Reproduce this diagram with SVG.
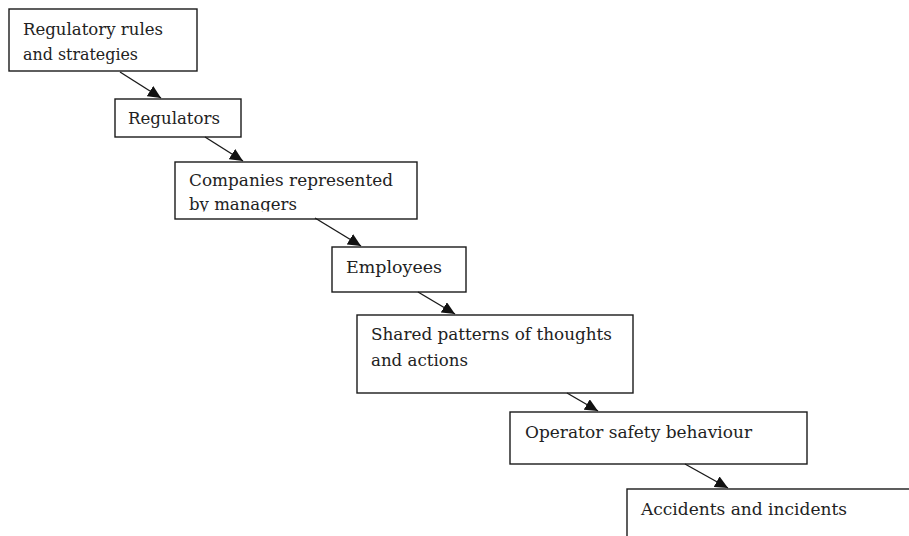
<svg xmlns="http://www.w3.org/2000/svg" width="909" height="536" viewBox="0 0 909 536">
<style>
.box{fill:#fff;stroke:#1a1a1a;stroke-width:1.4}
.t{font-family:"DejaVu Serif","Liberation Serif",serif;font-size:17px;fill:#222}
.c{stroke:#1a1a1a;stroke-width:1.4;fill:none;marker-end:url(#ah)}
</style>
<defs>
<marker id="ah" markerUnits="userSpaceOnUse" markerWidth="14" markerHeight="12" viewBox="0 0 14 12" refX="13" refY="6" orient="auto">
<path d="M0,0 L13,6 L0,12 Z" fill="#111"/>
</marker>
<clipPath id="clip3"><rect x="175" y="162" width="242" height="49.5"/></clipPath>
</defs>
<rect width="909" height="536" fill="#fff"/>
<g id="n1">
<rect class="box" x="9" y="9" width="188" height="62"/>
<text class="t" x="23" y="35" textLength="140" lengthAdjust="spacingAndGlyphs">Regulatory rules</text>
<text class="t" x="23" y="60" textLength="115" lengthAdjust="spacingAndGlyphs">and strategies</text>
</g>
<g id="n2">
<rect class="box" x="115" y="99" width="126" height="38"/>
<text class="t" x="128" y="124" textLength="92" lengthAdjust="spacingAndGlyphs">Regulators</text>
</g>
<g id="n3">
<rect class="box" x="175" y="162" width="242" height="57"/>
<g clip-path="url(#clip3)">
<text class="t" x="189" y="186" textLength="204" lengthAdjust="spacingAndGlyphs">Companies represented</text>
<text class="t" x="189" y="210" textLength="108" lengthAdjust="spacingAndGlyphs">by managers</text>
</g>
</g>
<g id="n4">
<rect class="box" x="332" y="247" width="134" height="45"/>
<text class="t" x="346" y="273" textLength="96" lengthAdjust="spacingAndGlyphs">Employees</text>
</g>
<g id="n5">
<rect class="box" x="357" y="315" width="276" height="78"/>
<text class="t" x="371" y="340" textLength="241" lengthAdjust="spacingAndGlyphs">Shared patterns of thoughts</text>
<text class="t" x="371" y="366" textLength="97" lengthAdjust="spacingAndGlyphs">and actions</text>
</g>
<g id="n6">
<rect class="box" x="510" y="412" width="297" height="52"/>
<text class="t" x="525" y="438" textLength="227" lengthAdjust="spacingAndGlyphs">Operator safety behaviour</text>
</g>
<g id="n7">
<rect class="box" x="627" y="489" width="300" height="60"/>
<text class="t" x="641" y="515" textLength="206" lengthAdjust="spacingAndGlyphs">Accidents and incidents</text>
</g>
<g id="connectors">
<line class="c" x1="120" y1="72" x2="161" y2="98"/>
<line class="c" x1="205" y1="137" x2="243" y2="161"/>
<line class="c" x1="315" y1="218" x2="361" y2="246"/>
<line class="c" x1="418" y1="292" x2="455" y2="314"/>
<line class="c" x1="567" y1="393" x2="598" y2="411"/>
<line class="c" x1="685" y1="464" x2="728" y2="488"/>
</g>
</svg>
